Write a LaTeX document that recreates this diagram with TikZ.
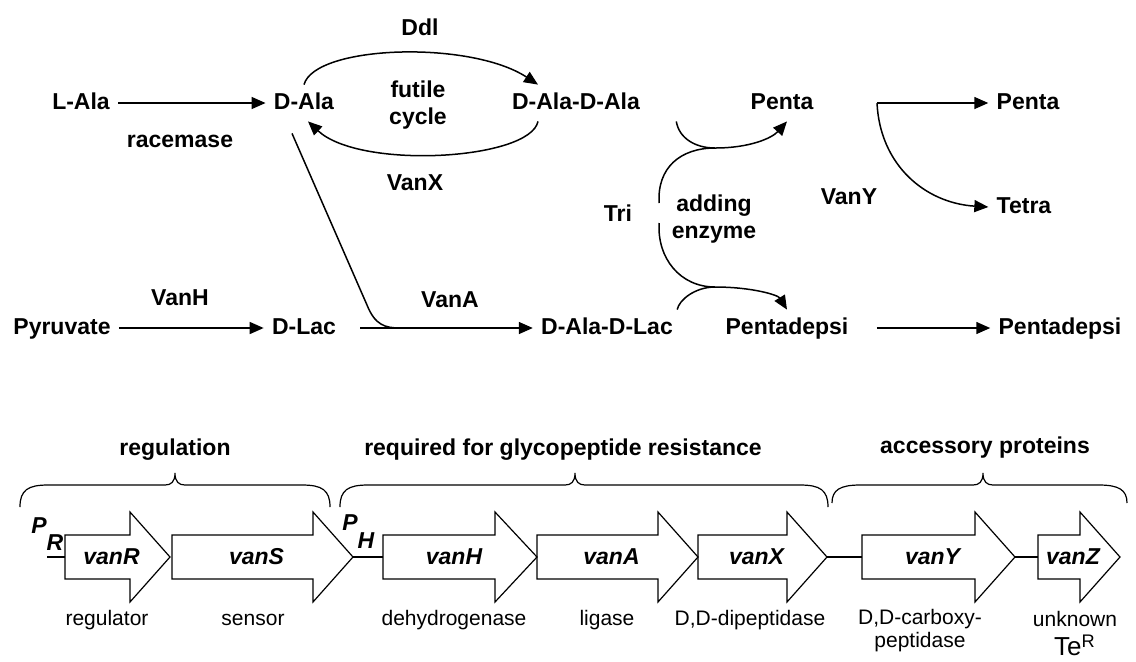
\documentclass[tikz,border=0pt]{standalone}
\usepackage{fontspec}
\setmainfont{Liberation Sans}
\usetikzlibrary{arrows.meta}

\newcommand{\molfont}{\fontsize{11.5}{13.5}\selectfont\bfseries}
\newcommand{\funcfont}{\fontsize{10.5}{11.5}\selectfont}

% gene arrow: name, left end, head start, tip, label
\newcommand{\genearrow}[5]{%
  \draw[genebox] (#2,535) -- (#3,535) -- (#3,512) -- (#4,557) -- (#3,602) -- (#3,579) -- (#2,579) -- cycle;
  \coordinate (#1-in) at (#2,557);
  \coordinate (#1-out) at (#4,557);
  \node[genename] (#1) at ({(#2+#4)/2-6},557) {#5};}

% curly brace over a group of genes: left, tip, right, foot
\newcommand{\genebrace}[4]{%
  \draw[brace] (#1,#4) .. controls (#1,490) and (#1+8,485) .. (#1+28,485) -- (#2-10,485)
    .. controls (#2-4,485) and (#2,482) .. (#2,473) .. controls (#2,482) and (#2+4,485) .. (#2+10,485)
    -- (#3-28,485) .. controls (#3-8,485) and (#3,490) .. (#3,#4);}

\begin{document}
\begin{tikzpicture}[
    x=0.5pt, y=-0.5pt,
    mol/.style={font=\molfont, inner sep=4pt, text height=8pt, text depth=2pt},
    enz/.style={font=\molfont, align=center},
    rxn/.style={-{Triangle[length=7pt,width=6pt]}, line width=0.75pt},
    link/.style={line width=0.75pt},
    genebox/.style={line width=0.6pt},
    genename/.style={font=\molfont\itshape},
    func/.style={font=\funcfont, align=center},
    brace/.style={line width=0.6pt},
    prom/.style={font=\molfont\itshape, inner sep=0pt}
]
    \useasboundingbox (0,0) rectangle (1136,661);

    % Top row
    \node[mol] (lala) at (81,103) {L-Ala};
    \node[mol] (dala) at (304,103) {D-Ala};
    \node[mol] (ddala) at (576,103) {D-Ala-D-Ala};
    \node[mol] (penta) at (782,103) {Penta};
    \node[mol] (pentaout) at (1028,103) {Penta};
    \node[mol] (tetra) at (1024,207) {Tetra};

    % Bottom row
    \node[mol] (pyr) at (62,328) {Pyruvate};
    \node[mol] (dlac) at (304,328) {D-Lac};
    \node[mol] (ddlac) at (607,328) {D-Ala-D-Lac};
    \node[mol] (pdepsi) at (787,328) {Pentadepsi};
    \node[mol] (pdepsiout) at (1060,328) {Pentadepsi};

    % Enzymes
    \node[enz] (racemase) at (180,141) {racemase};
    \node[enz] (ddl) at (420,27) {Ddl};
    \node[enz] (futile) at (418,105) {futile\\cycle};
    \node[enz] (vanx) at (415,183) {VanX};
    \node[enz] (vanh) at (180,298) {VanH};
    \node[enz] (vana) at (450,300) {VanA};
    \node[enz] (tri) at (618,213) {Tri};
    \node[enz] (adding) at (714,219) {adding\\enzyme};
    \node[enz] (vany) at (849,197) {VanY};

    % Reactions
    \draw[rxn] (lala) -- (dala);
    \draw[rxn] (pyr) -- (dlac);
    \draw[rxn] (dala.north) .. controls (315,45) and (470,40) .. ([xshift=-19pt]ddala.north);
    \draw[rxn] ([xshift=-19pt]ddala.south) .. controls (530,160) and (360,170) .. ([xshift=2pt]dala.south);
    \draw[rxn, shorten <=8pt] (dlac) -- (ddlac);
    \coordinate (merge) at (400,328);
    \draw[link] ([xshift=-6pt,yshift=-6pt]dala.south) -- (367,305) .. controls (375,325) and (385,328) .. (merge);

    % Adding enzyme
    \coordinate (jpenta) at (715,148);
    \coordinate (jdepsi) at (715,287);
    \draw[link] ([xshift=14pt]ddala.south east) .. controls (679,138) and (695,148) .. (jpenta);
    \draw[rxn] ([xshift=10pt,yshift=5pt]tri.east) .. controls (657,168) and (680,148) .. (jpenta)
        .. controls (750,148) and (772,138) .. ([xshift=2.5pt]penta.south);
    \draw[rxn] ([xshift=10pt,yshift=-5pt]tri.east) .. controls (657,258) and (680,287) .. (jdepsi)
        .. controls (752,287) and (778,295) .. (pdepsi.north);
    \draw[link] ([xshift=-2pt]ddlac.north east) .. controls (679,300) and (695,287) .. (jdepsi);
    \draw[rxn, shorten <=10pt] (pdepsi) -- (pdepsiout);

    % VanY
    \coordinate (ybranch) at (877,103);
    \draw[rxn] (ybranch) -- (pentaout);
    \draw[rxn] (ybranch) .. controls (880,165) and (925,203) .. (tetra.west);

    % Gene cluster
    \genebrace{20}{175}{330}{507}
    \genebrace{340}{575}{828}{507}
    \genebrace{832}{983}{1127}{503}
    \node[enz] (regulation) at (175,450) {regulation};
    \node[enz] (required) at (563,450) {required for glycopeptide resistance};
    \node[enz] (accessory) at (985,448) {accessory proteins};

    \genearrow{gR}{65}{130}{170}{vanR}
    \genearrow{gS}{172}{313}{353}{vanS}
    \genearrow{gH}{383}{495}{537}{vanH}
    \genearrow{gA}{537}{658}{698}{vanA}
    \genearrow{gX}{698}{787}{827}{vanX}
    \genearrow{gY}{862}{975}{1015}{vanY}
    \genearrow{gZ}{1038}{1080}{1120}{vanZ}
    \coordinate (promR) at (47,557);
    \draw[genebox] (promR) -- (gR-in);
    \draw[genebox] (gS-out) -- (gH-in);
    \draw[genebox] (gX-out) -- (gY-in);
    \draw[genebox] (gY-out) -- (gZ-in);
    \node[prom, anchor=base west] (pR) at (31,533) {P\raisebox{-8.5pt}{R}};
    \node[prom, anchor=base west] (pH) at (342,530) {P\raisebox{-9pt}{H}};

    % Gene functions
    \node[func] (fR) at (107,620) {regulator};
    \node[func] (fS) at (253,620) {sensor};
    \node[func] (fH) at (454,620) {dehydrogenase};
    \node[func] (fA) at (607,620) {ligase};
    \node[func] (fX) at (750,620) {D,D-dipeptidase};
    \node[func] (fY) at (920,631) {D,D-carboxy-\\peptidase};
    \node[func] (fZ) at (1075,634) {unknown\\[3pt]{\fontsize{13}{14}\selectfont Te\textsuperscript{R}}};
\end{tikzpicture}
\end{document}
